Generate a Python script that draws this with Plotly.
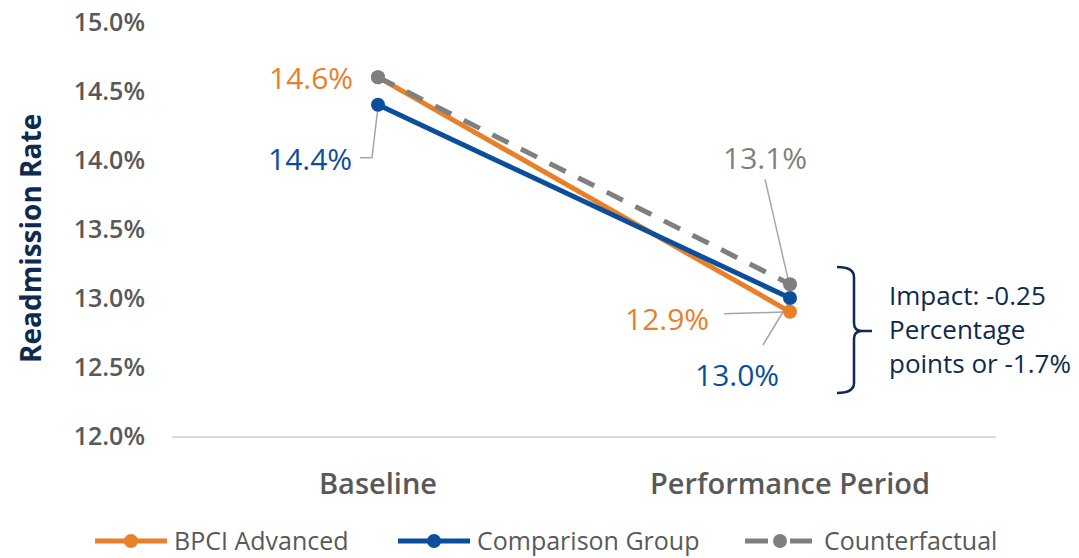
import plotly.graph_objects as go

# Readmission rates by period (%)
periods = ["Baseline", "Performance Period"]
bpci_advanced = [14.6, 12.9]
comparison_group = [14.4, 13.0]
counterfactual = [14.6, 13.1]

series_names = ["BPCI Advanced", "Comparison Group", "Counterfactual"]
y_ticks = [12.0, 12.5, 13.0, 13.5, 14.0, 14.5, 15.0]
impact_text = ["Impact: -0.25", "Percentage", "points or -1.7%"]

ORANGE = "#E8802A"
BLUE = "#0B4F9C"
GREY = "#7F7F7F"
NAVY = "#0E2A4F"
TEXT_GREY = "#595959"
LEADER = "#A6A6A6"
FONT = "Open Sans"
DASH = "18px,14px"

fig = go.Figure()

colors = [ORANGE, BLUE, GREY]
dashes = ["solid", "solid", DASH]
for name, vals, col, dash in zip(series_names,
                                 [bpci_advanced, comparison_group, counterfactual],
                                 colors, dashes):
    fig.add_trace(go.Scatter(
        x=periods, y=vals, name=name, mode="lines+markers",
        line=dict(color=col, width=5, dash=dash),
        marker=dict(color=col, size=14), showlegend=False,
    ))


def fmt(v):
    return f"{v:.1f}%"


# value labels: (category index, value, colour, x shift, y shift)
labels = [
    (0, bpci_advanced[0], ORANGE, -67, 0),
    (0, comparison_group[0], BLUE, -68, -54),
    (1, counterfactual[1], GREY, -25, 127),
    (1, bpci_advanced[1], ORANGE, -123, -7),
    (1, comparison_group[1], BLUE, -53, -76),
]
for xi, v, col, dx, dy in labels:
    fig.add_annotation(
        x=xi, y=v, xref="x", yref="y", text=fmt(v), showarrow=False,
        xanchor="center", yanchor="middle", xshift=dx, yshift=dy,
        font=dict(family=FONT, size=30, color=col),
    )

# leader lines, drawn in pixel offsets from the point they point to
leaders = [
    (0, comparison_group[0], "M0,-2 L-6,-53 L-18,-53"),
    (1, counterfactual[1], "M-25,105 L-1,1"),
    (1, bpci_advanced[1], "M-66,-2 L0,0"),
    (1, comparison_group[1], "M-27,-47 L2,1"),
]
for xi, v, path in leaders:
    fig.add_shape(
        type="path", xref="x", yref="y", xsizemode="pixel", ysizemode="pixel",
        xanchor=xi, yanchor=v, path=path,
        line=dict(color=LEADER, width=1.5), layer="below",
    )

# plot-area box in pixels
L, R, T, B = 172, 996, 22, 436
W, H = R - L, B - T


def px(x):
    return (x - L) / W


def py(y):
    return (B - y) / H


# brace next to the performance-period points
fig.add_shape(
    type="path", xref="paper", yref="paper", xsizemode="pixel", ysizemode="pixel",
    xanchor=px(854), yanchor=py(331),
    path=("M-17,64 Q0,64 0,54 L0,8 Q0,0 8,0 L18,0 "
          "M8,0 Q0,0 0,-8 L0,-52 Q0,-62 -17,-62"),
    line=dict(color=NAVY, width=2.5),
)
fig.add_annotation(
    xref="paper", yref="paper", x=px(887), y=py(329),
    text="<br>".join(impact_text), showarrow=False, align="left",
    xanchor="left", yanchor="middle",
    font=dict(family=FONT, size=26, color=NAVY),
)

# y-axis title
fig.add_annotation(
    xref="paper", yref="paper", x=px(30), y=py(239),
    text="Readmission Rate", textangle=-90, showarrow=False,
    xanchor="center", yanchor="middle",
    font=dict(family=FONT, size=28, color=NAVY, weight="bold"),
)

# legend row: line swatch with a dot, then the series name
legend_y = 541
legend_items = [
    # swatch segments, dot centre, text start
    ([(95, 167)], 131, 172),
    ([(398, 470)], 434, 475),
    ([(745, 768), (790, 812)], 780, 822),
]
for (segs, cx, tx), name, col in zip(legend_items, series_names, colors):
    for x0, x1 in segs:
        fig.add_shape(
            type="line", xref="paper", yref="paper",
            x0=px(x0), x1=px(x1), y0=py(legend_y), y1=py(legend_y),
            line=dict(color=col, width=5),
        )
    fig.add_shape(
        type="circle", xref="paper", yref="paper", xsizemode="pixel", ysizemode="pixel",
        xanchor=px(cx), yanchor=py(legend_y),
        x0=-7, x1=7, y0=-7, y1=7,
        fillcolor=col, line=dict(width=0),
    )
    fig.add_annotation(
        xref="paper", yref="paper", x=px(tx), y=py(legend_y - 1),
        text=name, showarrow=False, xanchor="left", yanchor="middle",
        font=dict(family=FONT, size=25, color=TEXT_GREY),
    )

fig.update_layout(
    width=1079, height=558,
    margin=dict(l=L, r=1079 - R, t=T, b=558 - B, autoexpand=False),
    paper_bgcolor="white", plot_bgcolor="white",
    showlegend=False,
    font=dict(family=FONT),
)
fig.update_xaxes(
    range=[-0.5, 1.5],
    showgrid=False, showline=True, linecolor="#D9D9D9", linewidth=2,
    ticks="", ticklabelstandoff=21,
    tickfont=dict(family=FONT, size=29, color=TEXT_GREY, weight=600),
)
fig.update_yaxes(
    range=[12.0, 15.0], tickvals=y_ticks, ticktext=[fmt(t) for t in y_ticks],
    showgrid=False, showline=False, zeroline=False, ticks="",
    ticklabelstandoff=26,
    tickfont=dict(family=FONT, size=25, color=TEXT_GREY, weight=600),
)

fig.write_html("out.html")
